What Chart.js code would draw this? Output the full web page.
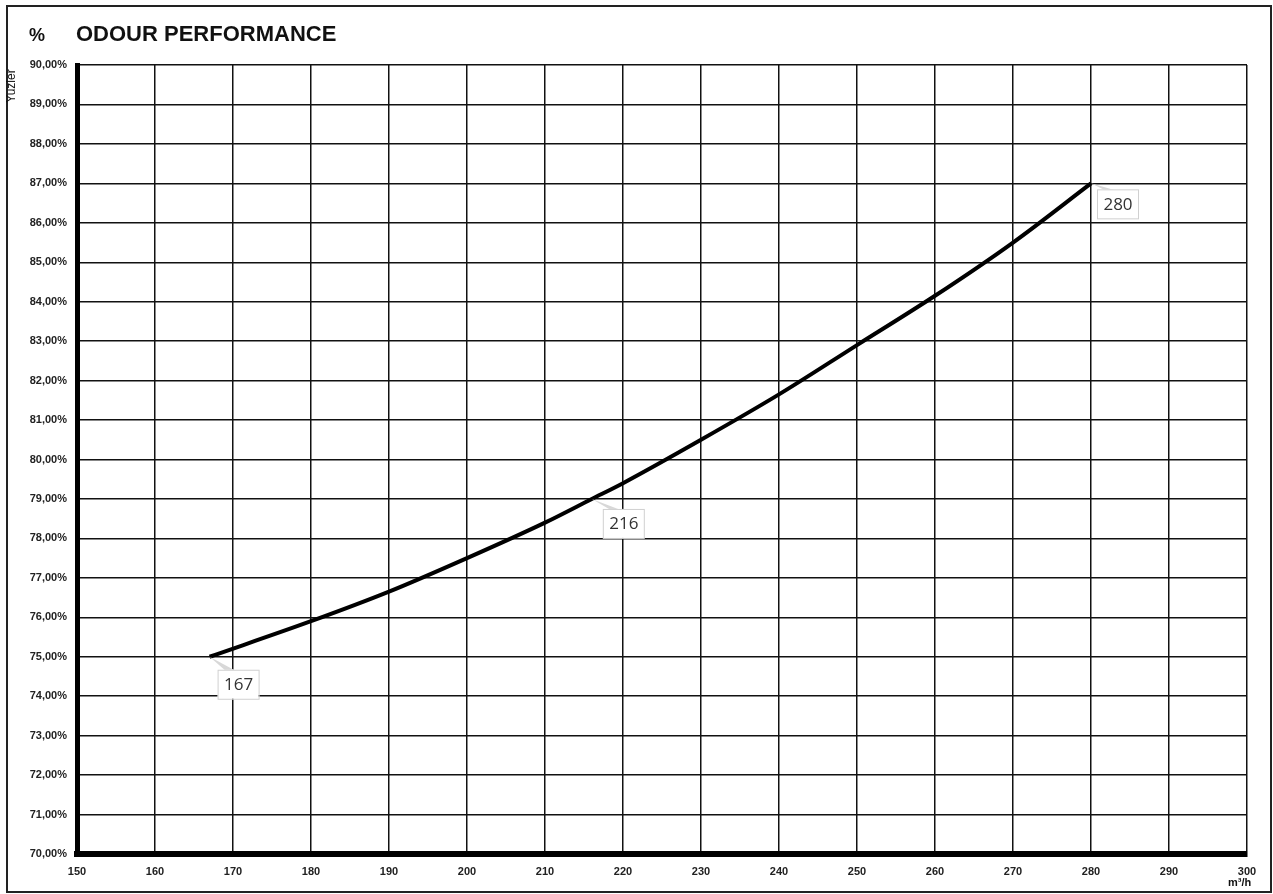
<!DOCTYPE html>
<html lang="en">
<head>
    <meta charset="UTF-8">
    <title>Odour Performance</title>
    <script src="https://cdn.jsdelivr.net/npm/chart.js"></script>
    <style>
        html, body { margin: 0; padding: 0; background: #fff; }
        #wrap { position: relative; width: 1273px; height: 894px; overflow: hidden; }
        #frame { position: absolute; left: 6px; top: 5px; width: 1266px; height: 888px; border: 2px solid #222; box-sizing: border-box; }
        .txt { position: absolute; font-family: "Liberation Sans", Arial, sans-serif; color: #111; white-space: nowrap; }
        #title { left: 76px; top: 21px; font-size: 22px; font-weight: bold; }
        #pct { left: 29px; top: 25px; font-size: 18px; font-weight: bold; }
        #yuz { left: -6px; top: 79px; font-size: 12px; transform: rotate(-90deg); }
        #unit { left: 1228px; top: 876px; font-size: 11px; font-weight: bold; }
        canvas { position: absolute; left: 0; top: 0; }
    </style>
</head>
<body>
<div id="wrap">
    <canvas id="odourChart" width="1273" height="894"></canvas>
    <div id="frame"></div>
    <div class="txt" id="title">ODOUR PERFORMANCE</div>
    <div class="txt" id="pct">%</div>
    <div class="txt" id="yuz">Yuzler</div>
    <div class="txt" id="unit">m³/h</div>
</div>

<script>
    // airflow (m3/h) and odour removal (%)
    const flowValues = [167, 180, 190, 200, 210, 216, 220, 230, 240, 250, 260, 270, 280];
    const odourValues = [75.0, 75.9, 76.65, 77.5, 78.4, 79.0, 79.4, 80.5, 81.65, 82.9, 84.15, 85.5, 87.0];
    // points that carry a value label
    const labelledFlows = [167, 216, 280];

    const xMin = 150, xMax = 300, xStep = 10;
    const yMin = 70, yMax = 90, yStep = 1;

    const points = flowValues.map((f, i) => ({ x: f, y: odourValues[i] }));

    // where each callout box sits relative to its point
    const calloutOffset = { 167: [8, 13], 216: [11, 10], 280: [6, 6] };

    // small callout boxes like the excel data labels
    const calloutPlugin = {
        id: 'callouts',
        afterDatasetsDraw(chart) {
            const ctx = chart.ctx;
            const xs = chart.scales.x, ys = chart.scales.y;
            ctx.save();
            labelledFlows.forEach(f => {
                const idx = flowValues.indexOf(f);
                const px = xs.getPixelForValue(f);
                const py = ys.getPixelForValue(odourValues[idx]);
                const off = calloutOffset[f];
                const bx = px + off[0], by = py + off[1], bw = 41, bh = 29;
                ctx.fillStyle = '#d8d8d8';
                ctx.beginPath();
                ctx.moveTo(px, py);
                ctx.lineTo(bx + 8, by + 1);
                ctx.lineTo(bx + 18, by + 1);
                ctx.closePath();
                ctx.fill();
                ctx.fillStyle = '#fff';
                ctx.fillRect(bx, by, bw, bh);
                ctx.strokeStyle = '#d0d0d0';
                ctx.lineWidth = 1;
                ctx.strokeRect(bx + 0.5, by + 0.5, bw, bh);
                ctx.fillStyle = '#333';
                ctx.font = '17px "Open Sans", "Liberation Sans", sans-serif';
                ctx.textAlign = 'center';
                ctx.textBaseline = 'middle';
                ctx.fillText(String(f), bx + bw / 2 + 0.5, by + bh / 2 + 1);
            });
            ctx.restore();
        }
    };

    new Chart(document.getElementById('odourChart'), {
        type: 'line',
        data: {
            datasets: [{
                data: points,
                borderColor: '#000',
                borderWidth: 4,
                pointRadius: 0,
                fill: false,
                cubicInterpolationMode: 'monotone'
            }]
        },
        options: {
            responsive: false,
            animation: false,
            layout: { padding: { left: 0, top: 65, right: 26, bottom: 0 } },
            plugins: { legend: { display: false }, tooltip: { enabled: false } },
            scales: {
                x: {
                    type: 'linear',
                    min: xMin,
                    max: xMax,
                    afterFit(scale) { scale.height = 40; },
                    ticks: {
                        stepSize: xStep,
                        padding: 11,
                        color: '#222',
                        font: { family: '"Liberation Sans", Arial, sans-serif', size: 11, weight: 'bold' }
                    },
                    grid: { color: '#111', lineWidth: 1.5, drawTicks: false },
                    border: { color: '#000', width: 6 }
                },
                y: {
                    min: yMin,
                    max: yMax,
                    afterFit(scale) { scale.width = 77; },
                    ticks: {
                        stepSize: yStep,
                        padding: 10,
                        color: '#222',
                        font: { family: '"Liberation Sans", Arial, sans-serif', size: 11, weight: 'bold' },
                        callback: v => v.toFixed(2).replace('.', ',') + '%'
                    },
                    grid: { color: '#111', lineWidth: 1.5, drawTicks: false },
                    border: { color: '#000', width: 5 }
                }
            }
        },
        plugins: [calloutPlugin]
    });
</script>
</body>
</html>
